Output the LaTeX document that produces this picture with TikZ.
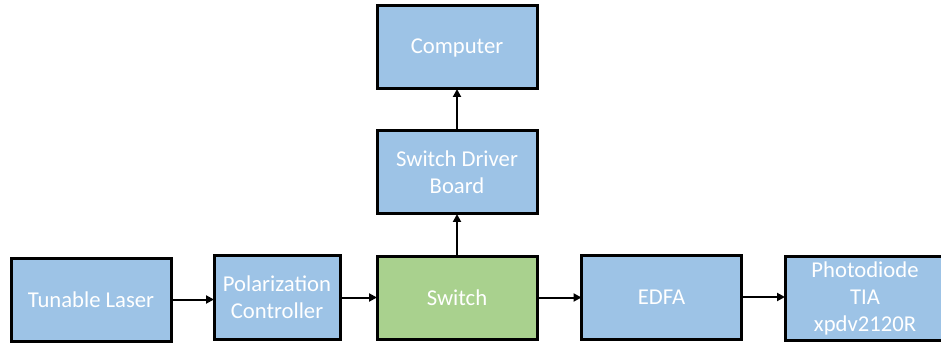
\documentclass[tikz,border=0pt]{standalone}
\usepackage{fontspec}
\setmainfont{Carlito}
\usetikzlibrary{arrows.meta}
\definecolor{boxblue}{HTML}{9DC3E6}
\definecolor{boxgreen}{HTML}{A9D18E}
\tikzset{
  block/.style={draw=black, line width=2.25pt, fill=boxblue, text=white,
    align=center, inner sep=0pt, outer sep=0pt,
    font=\fontsize{17pt}{20.25pt}\selectfont},
  link/.style={line width=1.5pt, -{Triangle[length=6pt,width=6pt]}}
}
\begin{document}
\begin{tikzpicture}[x=0.75pt,y=-0.75pt]
  \useasboundingbox (0,0) rectangle (941,345);
  \clip (0,0) rectangle (941,345);
  % bottom row: optical path
  \node[block, minimum width=0.75pt*160, minimum height=0.75pt*83] (laser) at (91,299.5) {Tunable Laser};
  \node[block, minimum width=0.75pt*126, minimum height=0.75pt*84] (pol) at (277,297.5) {Polarization\\Controller};
  \node[block, fill=boxgreen, minimum width=0.75pt*160, minimum height=0.75pt*83] (switch) at (457,297.5) {Switch};
  \node[block, minimum width=0.75pt*160, minimum height=0.75pt*84] (edfa) at (661.5,297) {EDFA};
  \node[block, minimum width=0.75pt*160, minimum height=0.75pt*84] (pd) at (865,298.5) {Photodiode\\TIA\\xpdv2120R};
  % control path
  \node[block, minimum width=0.75pt*160, minimum height=0.75pt*83] (driver) at (457,172.5) {Switch Driver\\Board};
  \node[block, minimum width=0.75pt*160, minimum height=0.75pt*83] (computer) at (457,47.5) {Computer};
  % connectors
  \draw[link] (laser.east) -- (laser.east -| pol.west);
  \draw[link] (pol.east) -- (pol.east -| switch.west);
  \draw[link] (switch.east) -- (switch.east -| edfa.west);
  \draw[link] (edfa.east) -- (edfa.east -| pd.west);
  \draw[link] (switch.north) -- (driver.south);
  \draw[link] (driver.north) -- (computer.south);
\end{tikzpicture}
\end{document}
